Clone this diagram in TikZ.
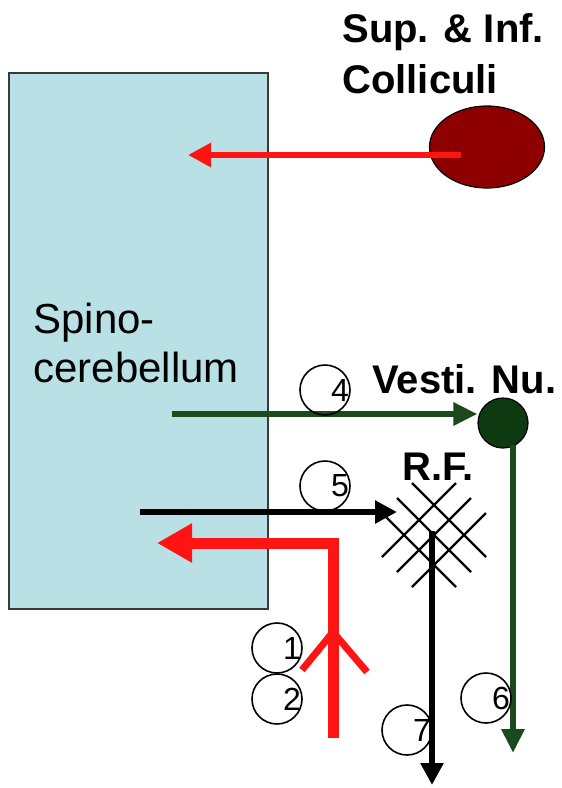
\documentclass[tikz,border=0pt]{standalone}
\usepackage{fontspec}
\setmainfont{Liberation Sans}
\usepackage{tikz}
\usetikzlibrary{arrows.meta, shapes.geometric, positioning}
\definecolor{SpinoBlue}{HTML}{B9E0E5}
\definecolor{EdgeGray}{HTML}{3A3A3A}
\definecolor{CollRed}{HTML}{8E0000}
\definecolor{TractRed}{HTML}{FF1414}
\definecolor{VestiGreen}{HTML}{0D3A10}
\definecolor{TractGreen}{HTML}{1B4A1E}
\tikzset{
  numring/.style={draw=black,circle,minimum size=25pt,inner sep=0pt,line width=0.8pt},
  numdigit/.style={font=\fontsize{16}{16}\selectfont,xshift=7.5pt,inner sep=0pt},
  boldlabel/.style={font=\fontsize{20}{25.5}\selectfont\bfseries,anchor=base west,align=left,inner sep=0pt},
  redpath/.style={draw=TractRed,line width=3pt,-{Triangle[length=11.5pt,width=11.5pt]}},
  bigredpath/.style={draw=TractRed,line width=5.5pt,-{Triangle[length=17.5pt,width=18.5pt]}},
  greenpath/.style={draw=TractGreen,line width=3pt,-{Triangle[length=12pt,width=11pt]}},
  blackpath/.style={draw=black,line width=3pt,-{Triangle[length=11pt,width=11pt]}},
  hatchline/.style={draw=black,line width=1.1pt}
}
\begin{document}
\begin{tikzpicture}[x=0.5pt,y=-0.5pt]
\useasboundingbox (0,0) rectangle (562,788);
\node[draw=EdgeGray,fill=SpinoBlue,line width=0.8pt,minimum width=129.5pt,minimum height=268pt,inner sep=0pt] (spino) at (138.5,341) {};
\node[font=\fontsize{21}{24.5}\selectfont,anchor=base west,align=left,inner sep=0pt] (spinotext) at (33,382) {Spino-\\cerebellum};

\node[draw=black,fill=CollRed,ellipse,minimum width=57.5pt,minimum height=41pt,line width=0.6pt] (coll) at (487,147) {};
\node[boldlabel] (colltext) at (342,93) {Sup. \& Inf.\\Colliculi};
\coordinate (collout) at (461,155);
\coordinate (collin) at (188,155);
\draw[redpath] (collout) -- (collin);

\node[draw=black,fill=VestiGreen,circle,minimum size=25pt,inner sep=0pt,line width=0.6pt] (vesti) at (503,423) {};
\node[boldlabel] (vestitext) at (372,393) {Vesti. Nu.};
\coordinate (vestiin) at (172,414);
\coordinate (vestiout) at (513,753);
\draw[greenpath] (vestiin) -- (vestiin -| vesti.west);
\draw[greenpath] ([yshift=2pt]vestiout |- vesti.south) -- (vestiout);

\coordinate (rf) at (434,535);
\foreach \k in {-1,0,1} {
  \draw[hatchline] ([shift={(15*\k-37,15*\k+37)}]rf) -- ([shift={(15*\k+37,15*\k-37)}]rf);
  \draw[hatchline] ([shift={(15*\k-37,-15*\k-37)}]rf) -- ([shift={(15*\k+37,-15*\k+37)}]rf);
}
\node[boldlabel] (rftext) at (402,480) {R.F.};
\coordinate (rfstart) at (140,512);
\coordinate (rfin) at (397,512);
\coordinate (rfout) at (432,785);
\draw[blackpath] (rfstart) -- (rfin);
\draw[blackpath] ([yshift=2pt]rfout |- rf) -- (rfout);

\coordinate (ascend) at (333,738);
\coordinate (ascendtip) at (157,543);
\draw[bigredpath] (ascend) |- (ascendtip);
\draw[draw=TractRed,line width=3.5pt] ([shift={(-31,-68)}]ascend) -- ([shift={(0,-106)}]ascend) -- ([shift={(34,-66)}]ascend);

\node[numring,label={[numdigit]center:1}] (n1) at (277,648) {};
\node[numring,label={[numdigit]center:2}] (n2) at (277,699) {};
\node[numring,label={[numdigit]center:4}] (n4) at (325,390) {};
\node[numring,label={[numdigit]center:5}] (n5) at (325,486) {};
\node[numring,label={[numdigit]center:6}] (n6) at (486,698) {};
\node[numring,label={[numdigit]center:7}] (n7) at (407,730) {};
\end{tikzpicture}
\end{document}
